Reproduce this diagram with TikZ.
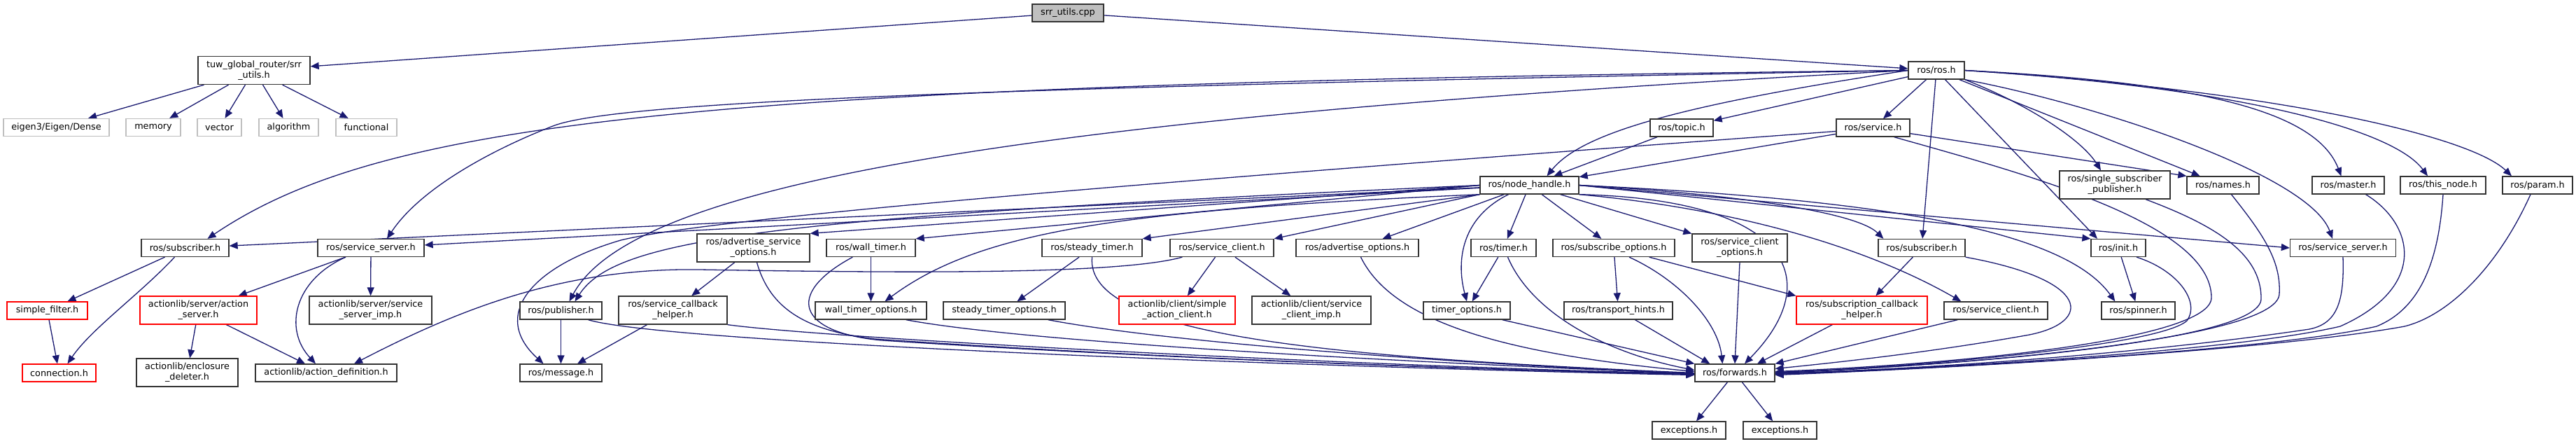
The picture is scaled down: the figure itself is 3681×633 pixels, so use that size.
\documentclass[tikz,border=0pt]{standalone}
\usepackage{fontspec}
\newfontfamily\dgfont{DejaVu Sans}
\usetikzlibrary{arrows.meta,calc}
\pgfdeclarelayer{bg}
\pgfsetlayers{bg,main}
\definecolor{edgec}{HTML}{191970}
\definecolor{grayb}{HTML}{BFBFBF}
\tikzset{
  nd/.style={draw=black!80, line width=1.3pt, fill=white, inner sep=0pt, minimum height=25pt, align=center, font=\dgfont\fontsize{12.8}{15}\selectfont},
  two/.style={minimum height=40pt},
  rd/.style={draw=red},
  gr/.style={draw=grayb},
  ed/.style={draw=edgec, line width=1.3pt, -{Triangle[length=12pt,width=10pt]}},
}
\begin{document}
\begin{tikzpicture}[x=1pt,y=-1pt]
\useasboundingbox (0,0) rectangle (3681,633);
% row 0-2
\node[nd,fill=grayb,minimum width=102pt] (srr) at (1526,18.5) {srr\_utils.cpp};
\node[nd,two,minimum width=160pt] (tuw) at (363,100.5) {tuw\_global\_router/srr\\\_utils.h};
\node[nd,gr,minimum width=151pt] (eigen) at (80.5,182) {eigen3/Eigen/Dense};
\node[nd,gr,minimum width=78pt] (memory) at (219,182) {memory};
\node[nd,gr,minimum width=63pt] (vector) at (313.5,182) {vector};
\node[nd,gr,minimum width=85pt] (algorithm) at (412.5,182) {algorithm};
\node[nd,gr,minimum width=87pt] (functional) at (523.5,182) {functional};
\node[nd,minimum width=80pt] (rosh) at (2767,100.5) {ros/ros.h};
\node[nd,minimum width=90pt] (topic) at (2403,182.5) {ros/topic.h};
\node[nd,minimum width=105pt] (service) at (2676.5,182.5) {ros/service.h};
\node[nd,minimum width=141pt] (nh) at (2185.5,264.5) {ros/node\_handle.h};
\node[nd,two,minimum width=158pt] (single) at (3022,264) {ros/single\_subscriber\\\_publisher.h};
\node[nd,minimum width=103pt] (names) at (3176.5,264.5) {ros/names.h};
\node[nd,minimum width=103pt] (master) at (3355.5,264.5) {ros/master.h};
\node[nd,minimum width=122pt] (thisnode) at (3491,264.5) {ros/this\_node.h};
\node[nd,minimum width=100pt] (param) at (3626,264.5) {ros/param.h};
% row 3
\node[nd,minimum width=125pt] (subl) at (264.5,354) {ros/subscriber.h};
\node[nd,minimum width=152pt] (ssl) at (530,354) {ros/service\_server.h};
\node[nd,two,minimum width=161pt] (advsrv) at (1076.5,354) {ros/advertise\_service\\\_options.h};
\node[nd,minimum width=127pt] (wt) at (1244.5,354) {ros/wall\_timer.h};
\node[nd,minimum width=143pt] (st) at (1560.5,354) {ros/steady\_timer.h};
\node[nd,minimum width=148pt] (scl) at (1746,354) {ros/service\_client.h};
\node[nd,minimum width=175pt] (advo) at (1939.5,354) {ros/advertise\_options.h};
\node[nd,minimum width=93pt] (timer) at (2148.5,354) {ros/timer.h};
\node[nd,minimum width=174pt] (subo) at (2306,354) {ros/subscribe\_options.h};
\node[nd,two,minimum width=136pt] (sco) at (2486,354) {ros/service\_client\\\_options.h};
\node[nd,minimum width=124pt] (subr) at (2746,354) {ros/subscriber.h};
\node[nd,minimum width=78pt] (init) at (3027,354) {ros/init.h};
\node[nd,minimum width=151pt] (ssr) at (3348,354) {ros/service\_server.h};
% row 4
\node[nd,rd,minimum width=115pt] (sf) at (67.5,443.5) {simple\_filter.h};
\node[nd,rd,two,minimum width=167pt] (as) at (283.5,443) {actionlib/server/action\\\_server.h};
\node[nd,two,minimum width=175pt] (ssimp) at (529.5,443) {actionlib/server/service\\\_server\_imp.h};
\node[nd,minimum width=117pt] (pub) at (801.5,443.5) {ros/publisher.h};
\node[nd,two,minimum width=155pt] (scb) at (961.5,443) {ros/service\_callback\\\_helper.h};
\node[nd,minimum width=159pt] (wto) at (1244.5,443.5) {wall\_timer\_options.h};
\node[nd,minimum width=174pt] (stto) at (1435,443.5) {steady\_timer\_options.h};
\node[nd,rd,two,minimum width=166pt] (sac) at (1682,443) {actionlib/client/simple\\\_action\_client.h};
\node[nd,two,minimum width=170pt] (scimp) at (1874,443) {actionlib/client/service\\\_client\_imp.h};
\node[nd,minimum width=124pt] (tmo) at (2096,443.5) {timer\_options.h};
\node[nd,minimum width=155pt] (th) at (2312.5,443.5) {ros/transport\_hints.h};
\node[nd,rd,two,minimum width=187pt] (scbh) at (2660.5,443) {ros/subscription\_callback\\\_helper.h};
\node[nd,minimum width=148pt] (scr) at (2852,443.5) {ros/service\_client.h};
\node[nd,minimum width=105pt] (spin) at (3055.5,443.5) {ros/spinner.h};
% row 5-6
\node[nd,rd,minimum width=105pt] (conn) at (84.5,532.5) {connection.h};
\node[nd,two,minimum width=145pt] (enc) at (267.5,532) {actionlib/enclosure\\\_deleter.h};
\node[nd,minimum width=202pt] (ad) at (466,532.5) {actionlib/action\_definition.h};
\node[nd,minimum width=117pt] (msg) at (801.5,532.5) {ros/message.h};
\node[nd,minimum width=114pt] (fw) at (2479,532.5) {ros/forwards.h};
\node[nd,minimum width=105pt] (exc1) at (2413.5,614.5) {exceptions.h};
\node[nd,minimum width=105pt] (exc2) at (2543.5,614.5) {exceptions.h};

\begin{pgfonlayer}{bg}
\draw[ed] (srr) -- (tuw);
\draw[ed] (srr) -- (rosh);
\foreach \x in {eigen,memory,vector,algorithm,functional} \draw[ed] (tuw) -- (\x);
% ros.h
\draw[ed] (rosh) -- (topic);
\draw[ed] (rosh) -- (service);
\draw[ed] (rosh.west) .. controls (2400,150) and (2260,190) .. ($(nh.north)+(25,0)$);
\draw[ed] (rosh.south east) .. controls (2900,150) and (2975,200) .. ($(single.north)+(-20,0)$);
\draw[ed] (rosh) -- (names);
\draw[ed] (rosh.east) .. controls (3150,118) and (3310,160) .. ($(master.north)+(-10,0)$);
\draw[ed] (rosh.east) .. controls (3200,125) and (3420,185) .. ($(thisnode.north)+(-22,0)$);
\draw[ed] (rosh.east) .. controls (3260,130) and (3530,195) .. ($(param.north)+(-37,0)$);
\draw[ed] (rosh.south east) .. controls (3000,150) and (3300,250) .. ($(ssr.north)+(-15,0)$);
\draw[ed] (rosh) -- (subr);
\draw[ed] (rosh) -- ($(init.north)+(-30,0)$);
\draw[ed] (rosh.west) .. controls (1400,170) and (900,270) .. ($(pub.north)+(12,0)$);
\draw[ed] (rosh.west) .. controls (1000,120) and (550,170) .. ($(subl.north)+(32,0)$);
\draw[ed] (rosh.west) .. controls (1400,125) and (880,145) .. (790,180) .. controls (700,215) and (600,270) .. ($(ssl.north)+(23,0)$);
% service.h, topic.h
\draw[ed] (topic) -- (nh);
\draw[ed] (service) -- (nh);
\draw[ed] (service) -- (names.north west);
\draw[ed] ($(service.west)+(0,5)$) .. controls (1500,270) and (1000,315) .. (887,343) .. controls (760,380) and (700,450) .. ($(msg.north)+(-25,0)$);
\draw[ed] ($(service.south)+(30,0)$) .. controls (2900,250) and (3160,320) .. (3160,425) .. controls (3160,485) and (2800,520) .. ($(fw.east)+(0,-2)$);
% loops to forwards from the right
\draw[ed] ($(single.south)+(44,0)$) .. controls (3160,320) and (3232,360) .. (3231,427) .. controls (3230,488) and (2800,522) .. ($(fw.east)+(0,-1)$);
\draw[ed] ($(names.south)+(12,0)$) .. controls (3230,330) and (3260,370) .. (3257,420) .. controls (3254,485) and (2800,522) .. (fw.east);
\draw[ed] ($(master.south)+(25,0)$) .. controls (3450,320) and (3470,410) .. (3344,466) .. controls (3200,500) and (2800,525) .. ($(fw.east)+(0,1)$);
\draw[ed] (thisnode.south) .. controls (3485,370) and (3460,440) .. (3396,466) .. controls (3250,500) and (2800,525) .. ($(fw.east)+(0,2)$);
\draw[ed] ($(param.south)+(-10,0)$) .. controls (3570,380) and (3500,450) .. (3436,466) .. controls (3250,500) and (2800,525) .. ($(fw.east)+(0,3)$);
\draw[ed] (ssr.south) .. controls (3350,430) and (3340,462) .. (3300,470) .. controls (3100,500) and (2800,525) .. ($(fw.east)+(0,1)$);
\draw[ed] ($(init.south)+(26,0)$) .. controls (3110,385) and (3145,430) .. (3125,458) .. controls (3090,490) and (2800,520) .. (fw.east);
% node_handle.h
\draw[ed] (nh) -- (subl);
\draw[ed] (nh) -- (ssl);
\draw[ed] (nh.west) -- (advsrv.north east);
\draw[ed] (nh.west) -- (wt.north east);
\draw[ed] (nh.south west) -- (st.north east);
\draw[ed] (nh.south west) -- (scl.north east);
\draw[ed] (nh) -- (advo);
\draw[ed] (nh) -- (timer);
\draw[ed] (nh) -- (subo);
\draw[ed] (nh) -- (sco);
\draw[ed] (nh.west) .. controls (1100,310) and (880,340) .. ($(pub.north)+(20,0)$);
\draw[ed] (nh.south west) .. controls (1600,300) and (1400,330) .. ($(wto.north)+(20,0)$);
\draw[ed] ($(nh.south)+(-30,0)$) .. controls (2090,310) and (2080,370) .. (tmo.north);
\draw[ed] (nh.east) .. controls (2450,275) and (2650,300) .. ($(subr.north west)+(8,0)$);
\draw[ed] (nh.east) -- (init.north west);
\draw[ed] (nh.east) -- (ssr.west);
\draw[ed] (nh.east) .. controls (2700,285) and (2950,330) .. ($(spin.north west)+(20,0)$);
\draw[ed] (nh.south east) .. controls (2500,300) and (2680,360) .. ($(scr.north west)+(25,0)$);
\draw[ed] (nh.south east) .. controls (2560,285) and (2610,400) .. ($(fw.north)+(14,0)$);
% left cluster
\draw[ed] (subl) -- (sf);
\draw[ed] ($(subl.south)+(-15,0)$) .. controls (200,420) and (130,470) .. ($(conn.north)+(12,0)$);
\draw[ed] (sf) -- (conn);
\draw[ed] (ssl) -- (as);
\draw[ed] (ssl) -- (ssimp);
\draw[ed] ($(ssl.south)+(-36,0)$) .. controls (420,400) and (405,470) .. ($(ad.north)+(-15,0)$);
\draw[ed] (as) -- (enc);
\draw[ed] ($(as.south)+(40,0)$) -- ($(ad.north)+(-30,0)$);
\draw[ed] ($(scl.south west)+(18,0)$) .. controls (1600,392) and (1300,390) .. (1000,385) .. controls (800,382) and (650,445) .. ($(ad.north)+(40,0)$);
\draw[ed] (scl) -- (sac);
\draw[ed] (scl) -- (scimp);
% middle
\draw[ed] (advsrv) -- (scb);
\draw[ed] ($(advsrv.south)+(5,0)$) .. controls (1100,440) and (1150,472) .. (1250,484) .. controls (1700,515) and (2200,530) .. ($(fw.west)+(0,2)$);
\draw[ed] (scb) -- (msg);
\draw[ed] (scb.south east) .. controls (1200,485) and (2000,525) .. ($(fw.west)+(0,1)$);
\draw[ed] (pub) -- (msg);
\draw[ed] ($(pub.south east)+(-20,0)$) .. controls (950,490) and (1900,525) .. ($(fw.west)+(0,3)$);
\draw[ed] (wt) -- (wto);
\draw[ed] ($(wt.south west)+(38,0)$) .. controls (1120,420) and (1140,475) .. (1260,486) .. controls (1700,515) and (2200,530) .. ($(fw.west)+(0,2)$);
\draw[ed] ($(wto.south east)+(-30,0)$) .. controls (1500,495) and (2200,525) .. ($(fw.west)+(0,1)$);
\draw[ed] (st) -- (stto);
\draw[ed] (st.south) .. controls (1550,480) and (1900,510) .. (fw.west);
\draw[ed] ($(stto.south east)+(-25,0)$) .. controls (1700,495) and (2200,525) .. ($(fw.west)+(0,1)$);
\draw[ed] ($(advo.south)+(5,0)$) .. controls (1990,460) and (2150,505) .. ($(fw.west)+(0,-2)$);
\draw[ed] ($(timer.south)+(6,0)$) .. controls (2190,450) and (2300,505) .. ($(fw.west)+(0,-4)$);
\draw[ed] (timer) -- (tmo);
\draw[ed] ($(tmo.south east)+(-12,0)$) -- (fw.north west);
\draw[ed] (subo) -- (th);
\draw[ed] ($(subo.south)+(22,0)$) .. controls (2400,400) and (2455,460) .. ($(fw.north west)+(40,0)$);
\draw[ed] ($(subo.south east)+(-37,0)$) -- (scbh.north west);
\draw[ed] ($(th.south)+(24,0)$) -- ($(fw.north west)+(22,0)$);
\draw[ed] (sco.south) -- (fw.north);
\draw[ed] ($(scbh.south west)+(52,0)$) -- ($(fw.north)+(32,0)$);
\draw[ed] (subr) -- (scbh);
\draw[ed] (subr.south east) .. controls (2990,400) and (2990,460) .. (2900,478) .. controls (2750,505) and (2600,520) .. ($(fw.east)+(0,-6)$);
\draw[ed] ($(scr.south west)+(20,0)$) -- (fw.north east);
\draw[ed] (init) -- (spin);
\draw[ed] (fw) -- (exc1);
\draw[ed] (fw) -- (exc2);
\end{pgfonlayer}
\end{tikzpicture}
\end{document}
